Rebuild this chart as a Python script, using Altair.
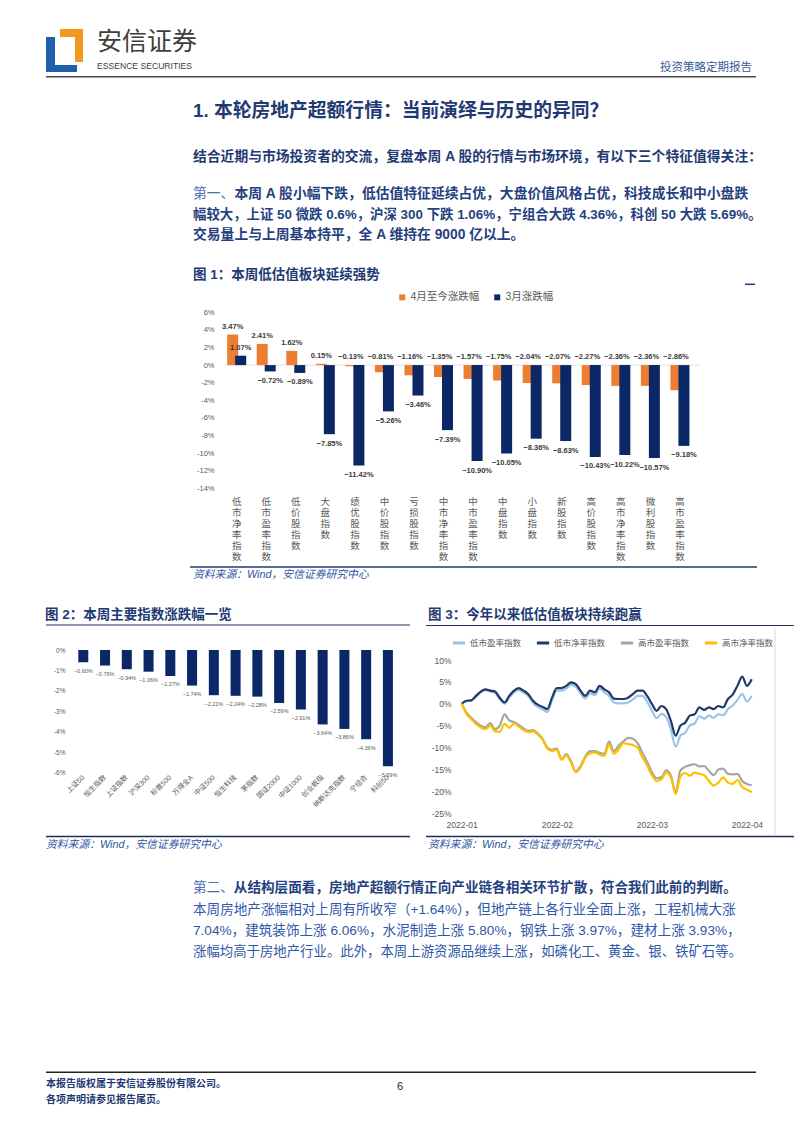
import altair as alt
import pandas as pd

CJK = "Noto Sans CJK SC"
MIX = "Liberation Sans, Noto Sans CJK SC"
LAT = "Liberation Sans"
OX, OY = 8, 8
W, H = 786, 1110

# ---------------- text content ----------------
header_cn = "安信证券"
header_en = "ESSENCE SECURITIES"
header_right = "投资策略定期报告"
section_title = "1. 本轮房地产超额行情：当前演绎与历史的异同？"
para1 = "结合近期与市场投资者的交流，复盘本周 A 股的行情与市场环境，有以下三个特征值得关注："
para2_lead = "第一、"
para2_lines = [
    "本周 A 股小幅下跌，低估值特征延续占优，大盘价值风格占优，科技成长和中小盘跌",
    "幅较大，上证 50 微跌 0.6%，沪深 300 下跌 1.06%，宁组合大跌 4.36%，科创 50 大跌 5.69%。",
    "交易量上与上周基本持平，全 A 维持在 9000 亿以上。",
]
para3_lead = "第二、"
para3_head = "从结构层面看，房地产超额行情正向产业链各相关环节扩散，符合我们此前的判断。"
para3_lines = [
    "本周房地产涨幅相对上周有所收窄（+1.64%），但地产链上各行业全面上涨，工程机械大涨",
    "7.04%，建筑装饰上涨 6.06%，水泥制造上涨 5.80%，钢铁上涨 3.97%，建材上涨 3.93%，",
    "涨幅均高于房地产行业。此外，本周上游资源品继续上涨，如磷化工、黄金、银、铁矿石等。",
]
fig1_title = "图 1：本周低估值板块延续强势"
fig2_title = "图 2：本周主要指数涨跌幅一览"
fig3_title = "图 3：今年以来低估值板块持续跑赢"
source_text = "资料来源：Wind，安信证券研究中心"
footer_lines = ["本报告版权属于安信证券股份有限公司。", "各项声明请参见报告尾页。"]
page_no = "6"

# ---------------- figure 1 data ----------------
fig1_categories = ["低市净率指数", "低市盈率指数", "低价股指数", "大盘指数", "绩优股指数", "中价股指数",
                   "亏损股指数", "中市净率指数", "中市盈率指数", "中盘指数", "小盘指数", "新股指数",
                   "高价股指数", "高市净率指数", "微利股指数", "高市盈率指数"]
fig1_series = ["4月至今涨跌幅", "3月涨跌幅"]
fig1_apr = [3.47, 2.41, 1.62, 0.15, -0.13, -0.81, -1.16, -1.35, -1.57, -1.75, -2.04, -2.07,
            -2.27, -2.36, -2.36, -2.86]
fig1_mar = [1.07, -0.72, -0.89, -7.85, -11.42, -5.26, -3.46, -7.39, -10.90, -10.05, -8.36, -8.63,
            -10.43, -10.22, -10.57, -9.18]
fig1_yticks = [6, 4, 2, 0, -2, -4, -6, -8, -10, -12, -14]

# ---------------- figure 2 data ----------------
fig2_categories = ["上证50", "恒生指数", "上证指数", "沪深300", "标普500", "万得全A", "中证500",
                   "恒生科技", "茅指数", "国证2000", "中证1000", "创业板指", "纳斯达克指数", "宁组合", "科创50"]
fig2_values = [-0.60, -0.76, -0.94, -1.06, -1.27, -1.74, -2.21, -2.24, -2.28, -2.59, -2.91,
               -3.64, -3.86, -4.36, -5.69]
fig2_yticks = [0, -1, -2, -3, -4, -5, -6]

# ---------------- figure 3 data ----------------
fig3_dates = [
    "2022-01-04", "2022-01-05", "2022-01-06", "2022-01-07", "2022-01-10", "2022-01-11", "2022-01-12",
    "2022-01-13", "2022-01-14", "2022-01-17", "2022-01-18", "2022-01-19", "2022-01-20", "2022-01-21",
    "2022-01-24", "2022-01-25", "2022-01-26", "2022-01-27", "2022-01-28",
    "2022-02-07", "2022-02-08", "2022-02-09", "2022-02-10", "2022-02-11", "2022-02-14", "2022-02-15",
    "2022-02-16", "2022-02-17", "2022-02-18", "2022-02-21", "2022-02-22", "2022-02-23", "2022-02-24",
    "2022-02-25", "2022-02-28",
    "2022-03-01", "2022-03-02", "2022-03-03", "2022-03-04", "2022-03-07", "2022-03-08", "2022-03-09",
    "2022-03-10", "2022-03-11", "2022-03-14", "2022-03-15", "2022-03-16", "2022-03-17", "2022-03-18",
    "2022-03-21", "2022-03-22", "2022-03-23", "2022-03-24", "2022-03-25", "2022-03-28", "2022-03-29",
    "2022-03-30", "2022-03-31",
    "2022-04-01", "2022-04-06", "2022-04-07", "2022-04-08",
]
fig3_series = ["低市盈率指数", "低市净率指数", "高市盈率指数", "高市净率指数"]
fig3_low_pe = [0.0, 0.6, 0.7, 1.6, 2.6, 3.1, 2.8, 2.5, 1.1, 0.0,
               1.4, 2.6, 3.2, 2.6, 1.8, 0.2, -0.7, -1.2, -1.9, 0.8,
               3.0, 3.0, 3.5, 4.3, 3.9, 2.4, 1.2, 2.4, 2.0, 3.5,
               2.6, 1.8, 0.3, 0.1, 0.1, 0.3, 1.0, 1.8, 1.8, 0.5,
               -1.5, -3.3, -2.3, -3.0, -5.8, -9.8, -7.3, -6.6, -4.9, -4.5,
               -2.8, -3.4, -2.7, -3.2, -2.4, -2.6, -1.2, -0.4, 0.9, 2.2,
               0.5, 1.8]
fig3_low_pb = [0.0, 0.7, 0.8, 1.8, 2.8, 3.3, 3.0, 2.8, 1.4, 0.3,
               1.8, 3.0, 3.6, 3.0, 2.2, 0.7, -0.2, -0.7, -1.2, 1.4,
               3.6, 3.6, 4.1, 4.9, 4.5, 3.0, 1.8, 3.0, 2.6, 4.1,
               3.3, 2.6, 1.2, 1.1, 1.1, 1.4, 2.2, 3.0, 3.0, 1.8,
               0.0, -1.6, -0.5, -1.2, -3.9, -7.3, -5.0, -4.3, -2.7, -2.4,
               -0.8, -1.4, -0.8, -1.2, -0.5, -0.8, 1.1, 2.1, 4.1, 6.2,
               4.1, 5.6]
fig3_high_pe = [0.0, -2.0, -3.2, -4.2, -5.0, -5.4, -4.4, -5.8, -5.0, -2.4,
                -3.8, -4.2, -4.8, -5.6, -6.2, -6.0, -6.8, -8.0, -10.0, -10.5,
                -10.2, -12.6, -11.5, -13.1, -15.4, -14.2, -12.0, -10.8, -10.8, -11.2,
                -11.4, -8.6, -10.8, -9.6, -8.6, -7.8, -8.0, -9.0, -11.2, -13.2,
                -15.6, -17.0, -16.8, -15.2, -16.4, -20.2, -15.2, -14.4, -14.0, -13.8,
                -14.3, -14.2, -15.3, -16.3, -15.0, -14.8, -16.0, -16.1, -16.0, -17.6,
                -18.3, -18.6]
fig3_high_pb = [0.0, -2.3, -3.5, -4.6, -5.4, -5.8, -5.0, -6.3, -6.4, -4.6,
                -5.5, -4.5, -5.2, -6.0, -6.5, -6.3, -7.0, -8.2, -10.2, -10.8,
                -10.5, -12.8, -11.8, -13.4, -15.6, -14.5, -12.3, -11.3, -11.1, -11.6,
                -11.9, -9.3, -11.4, -10.4, -9.0, -9.2, -9.4, -10.0, -12.2, -14.0,
                -16.3, -17.6, -17.3, -15.7, -16.8, -20.6, -16.6, -15.8, -16.4, -15.7,
                -16.0, -16.3, -17.6, -18.7, -18.0, -16.8, -18.0, -18.3, -17.4, -19.0,
                -19.6, -20.2]
fig3_yticks = [10, 5, 0, -5, -10, -15, -20, -25]

# ---------------- colours ----------------
NAVY_TXT = "#1f3a73"
BOLD_BLUE = "#253f80"
LEAD_BLUE = "#4a6db3"
REG_BLUE = "#2f58a8"
SRC_BLUE = "#2f55a0"
GRAY = "#595959"
ORANGE = "#ED7D31"
NAVY_BAR = "#0B2766"


def one():
    return pd.DataFrame({"k": [0]})


def txt(s, x, y, size, color, weight="normal", font=CJK, align="left", style="normal"):
    return alt.Chart(pd.DataFrame({"t": [s]})).mark_text(
        align=align, baseline="middle", fontSize=size, color=color, font=font,
        fontWeight=weight, fontStyle=style
    ).encode(x=alt.value(x - OX), y=alt.value(y - OY), text="t:N")


def hline(x1, x2, y, color, width):
    return alt.Chart(one()).mark_rule(color=color, strokeWidth=width).encode(
        x=alt.value(x1 - OX), x2=alt.value(x2 - OX), y=alt.value(y - OY))


def vline(x, y1, y2, color, width):
    return alt.Chart(one()).mark_rule(color=color, strokeWidth=width).encode(
        x=alt.value(x - OX), y=alt.value(y1 - OY), y2=alt.value(y2 - OY))


def box(x1, x2, y1, y2, color):
    return alt.Chart(one()).mark_rect(color=color).encode(
        x=alt.value(x1 - OX), x2=alt.value(x2 - OX), y=alt.value(y1 - OY), y2=alt.value(y2 - OY))


layers = []
# header
layers += [
    box(46, 55, 37, 72, "#1f5fae"), box(46, 77, 65, 72, "#1f5fae"),
    box(60, 83, 29, 37, "#f39a1e"), box(75, 83, 29, 62, "#f39a1e"),
    txt(header_cn, 97, 42, 25, "#3d3d3d"),
    txt(header_en, 97, 65.5, 8.6, "#3d3d3d", font=LAT),
    txt(header_right, 752, 68, 11.5, "#3b5b9a", align="right"),
    hline(46, 756, 76.7, "#4d4d4d", 1.5),
]
# body text
layers += [
    txt(section_title, 193, 111, 18.8, NAVY_TXT, weight="bold", font=MIX),
    txt(para1, 193, 157, 13.8, NAVY_TXT, weight="bold", font=MIX),
    txt(para2_lead, 193, 194, 13.8, LEAD_BLUE, font=MIX),
    txt(para2_lines[0], 193 + 3 * 13.8, 194, 13.8, BOLD_BLUE, weight="bold", font=MIX),
    txt(para2_lines[1], 193, 214.5, 13.4, BOLD_BLUE, weight="bold", font=MIX),
    txt(para2_lines[2], 193, 235, 13.8, BOLD_BLUE, weight="bold", font=MIX),
    txt(fig1_title, 193, 275, 13.5, NAVY_TXT, weight="bold", font=MIX),
    hline(745, 755, 284.3, NAVY_TXT, 1.5),
    hline(190, 757, 567, NAVY_TXT, 1.5),
    txt(source_text, 193, 575, 10.8, SRC_BLUE, style="italic", font=MIX),
    txt(fig2_title, 45, 615, 13.5, NAVY_TXT, weight="bold", font=MIX),
    txt(fig3_title, 428, 615, 13.5, NAVY_TXT, weight="bold", font=MIX),
    hline(46, 410, 625, "#1a2f5a", 1.2),
    hline(426, 800, 625.5, "#1a2f5a", 1.2),
    hline(46, 410, 836.5, "#1a2f5a", 1.5),
    hline(426, 800, 836.5, "#1a2f5a", 1.5),
    vline(775, 628, 835, "#d9d9d9", 1),
    txt(source_text, 46, 845, 10.8, SRC_BLUE, style="italic", font=MIX),
    txt(source_text, 428, 845, 10.8, SRC_BLUE, style="italic", font=MIX),
    txt(para3_lead, 193, 888, 13.6, LEAD_BLUE, font=MIX),
    txt(para3_head, 193 + 3 * 13.6, 888, 13.6, BOLD_BLUE, weight="bold", font=MIX),
    txt(para3_lines[0], 193, 910, 13.6, REG_BLUE, font=MIX),
    txt(para3_lines[1], 193, 931, 13.6, REG_BLUE, font=MIX),
    txt(para3_lines[2], 193, 952, 13.4, REG_BLUE, font=MIX),
    hline(46, 756, 1072.3, "#222222", 1.5),
    txt(footer_lines[0], 46, 1083.5, 10, NAVY_TXT, weight="bold", font=MIX),
    txt(footer_lines[1], 46, 1100, 10, NAVY_TXT, weight="bold", font=MIX),
    txt(page_no, 400, 1087, 11, "#222222", align="center", font=LAT),
]

# ---------------- figure 1 ----------------
fig1_df = pd.DataFrame({
    "category": fig1_categories * 2,
    "series": [fig1_series[0]] * len(fig1_categories) + [fig1_series[1]] * len(fig1_categories),
    "value": fig1_apr + fig1_mar,
})
y1_axis = alt.Axis(orient="left", offset=-209, title=None, domain=False, ticks=False, tickSize=0,
                   values=fig1_yticks, labelExpr="datum.value + '%'", labelFontSize=7.5,
                   labelColor=GRAY, labelFont=LAT, labelPadding=3, grid=False)
x1_scale = alt.Scale(range=[213.9, 686.7], paddingInner=0.46, paddingOuter=0.23)
x1 = alt.X("category:N", sort=fig1_categories, scale=x1_scale, axis=None)
y1_scale = alt.Scale(domain=[-14, 6], range=[480.3, 304.3], nice=False)
legend1 = alt.Legend(orient="none", legendX=389, legendY=284, direction="horizontal", title=None,
                     symbolType="square", symbolSize=36, symbolStrokeWidth=0, labelFontSize=10.5,
                     labelFont=MIX, labelColor=GRAY, columnPadding=12, labelOffset=3, padding=0)
color1 = alt.Color("series:N", scale=alt.Scale(domain=fig1_series, range=[ORANGE, NAVY_BAR]), legend=legend1)

zero1 = alt.Chart(one()).transform_calculate(zero="0").mark_rule(color="#d9d9d9", strokeWidth=0.8).encode(
    x=alt.value(217), x2=alt.value(692),
    y=alt.Y("zero:Q", scale=y1_scale, axis=y1_axis))


def fig1_bars(series_name, shift):
    return alt.Chart(fig1_df).transform_filter(alt.datum.series == series_name).transform_calculate(
        base="0").mark_bar(width=11, xOffset=shift).encode(
        x=x1, y=alt.Y("value:Q", scale=y1_scale, axis=y1_axis), y2="base:Q", color=color1)


def fig1_labels(series_name, shift, up_only):
    if up_only:
        pos = "max(datum.value, 0) + 0.9"
    else:
        pos = "datum.value < 0 ? datum.value - 1.08 : datum.value + 0.87"
    return alt.Chart(fig1_df).transform_filter(alt.datum.series == series_name).transform_calculate(
        ypos=pos, lab="format(datum.value, '.2f') + '%'"
    ).mark_text(fontSize=7.5, fontWeight="bold", color="#3a3a3a", font=LAT, xOffset=shift,
                baseline="middle").encode(
        x=x1, y=alt.Y("ypos:Q", scale=y1_scale, axis=y1_axis), text="lab:N")


fig1 = alt.layer(zero1,
                 fig1_bars(fig1_series[0], -4), fig1_bars(fig1_series[1], 4),
                 fig1_labels(fig1_series[0], -4, True), fig1_labels(fig1_series[1], 4, False))

# vertical category labels: one character per text mark, stacked top to bottom
char_rows = [(c, ch, i) for c in fig1_categories for i, ch in enumerate(c)]
fig1_chars = pd.DataFrame(char_rows, columns=["category", "ch", "pos"])
fig1_xlabels = alt.Chart(fig1_chars).mark_text(
    fontSize=9.5, color=GRAY, font=CJK, baseline="middle", align="center"
).encode(
    x=alt.X("category:N", sort=fig1_categories, scale=x1_scale, axis=None),
    y=alt.Y("pos:Q", scale=alt.Scale(domain=[0, 5], range=[493.7, 548.7], nice=False, zero=False), axis=None),
    text="ch:N",
)

# ---------------- figure 2 ----------------
fig2_df = pd.DataFrame({"index_name": fig2_categories, "value": fig2_values})
x2_axis = alt.Axis(orient="bottom", offset=766 - H, title=None, domain=False, ticks=False, tickSize=0,
                   labelAngle=-45, labelAlign="right", labelBaseline="middle", labelFontSize=7,
                   labelColor=GRAY, labelFont=MIX, labelPadding=2, labelOverlap=False, grid=False)
y2_axis = alt.Axis(orient="left", offset=-60, title=None, domain=False, ticks=False, tickSize=0,
                   values=fig2_yticks, labelExpr="datum.value + '%'", labelFontSize=6.5,
                   labelColor=GRAY, labelFont=LAT, labelPadding=3, grid=False)
x2 = alt.X("index_name:N", sort=fig2_categories,
           scale=alt.Scale(range=[64.4, 390.8], paddingInner=0.54, paddingOuter=0.27), axis=x2_axis)
y2_scale = alt.Scale(domain=[-6, 0], range=[764.7, 642], nice=False)
fig2_bars = alt.Chart(fig2_df).transform_calculate(base="0").mark_bar(color=NAVY_BAR).encode(
    x=x2, y=alt.Y("value:Q", scale=y2_scale, axis=y2_axis), y2="base:Q")
fig2_labels = alt.Chart(fig2_df).transform_calculate(
    ypos="datum.value - 0.41", lab="format(datum.value, '.2f') + '%'"
).mark_text(fontSize=5.5, color=GRAY, font=LAT, baseline="middle").encode(
    x=x2, y=alt.Y("ypos:Q", scale=y2_scale, axis=y2_axis), text="lab:N")
fig2 = alt.layer(fig2_bars, fig2_labels)

# ---------------- figure 3 ----------------
n3 = len(fig3_dates)
fig3_df = pd.DataFrame({
    "date": fig3_dates * 4,
    "series": sum([[s] * n3 for s in fig3_series], []),
    "value": fig3_low_pe + fig3_low_pb + fig3_high_pe + fig3_high_pb,
})
x3_axis = alt.Axis(orient="bottom", offset=810 - H, title=None, domain=False, ticks=False, tickSize=0,
                   values=[fig3_dates[0], fig3_dates[20], fig3_dates[40], fig3_dates[60]],
                   labelExpr="substring(datum.label, 0, 7)", labelAngle=0, labelFontSize=8.5,
                   labelColor=GRAY, labelFont=LAT, labelPadding=2, labelOverlap=False, grid=False)
y3_axis = alt.Axis(orient="left", offset=-446, title=None, domain=False, ticks=False, tickSize=0,
                   values=fig3_yticks, labelExpr="datum.value + '%'", labelFontSize=8.5,
                   labelColor=GRAY, labelFont=LAT, labelPadding=3, grid=False)
legend3 = alt.Legend(orient="none", legendX=443, legendY=627, direction="horizontal", title=None,
                     symbolType="stroke", symbolSize=150, symbolStrokeWidth=3, labelFontSize=8.5,
                     labelFont=MIX, labelColor=GRAY, columnPadding=8, labelOffset=3, padding=0)
fig3 = alt.Chart(fig3_df).mark_line(strokeWidth=2.2, interpolate="monotone").encode(
    x=alt.X("date:O", scale=alt.Scale(type="point", range=[453.7, 743.7], padding=0), axis=x3_axis),
    y=alt.Y("value:Q", scale=alt.Scale(domain=[-25, 10], range=[805.3, 652], nice=False), axis=y3_axis),
    color=alt.Color("series:N", sort=fig3_series,
                    scale=alt.Scale(domain=fig3_series, range=["#9DC3E6", "#1F3864", "#A5A5A5", "#FFC000"]),
                    legend=legend3),
)

chart = alt.layer(*layers, fig1, fig1_xlabels, fig2, fig3).resolve_scale(
    x="independent", y="independent", color="independent"
).properties(
    width=W, height=H, autosize=alt.AutoSizeParams(type="none"), padding=0, background="white"
).configure_view(strokeWidth=0)

chart.save("out.html", embed_options={"renderer": "svg", "actions": False})
